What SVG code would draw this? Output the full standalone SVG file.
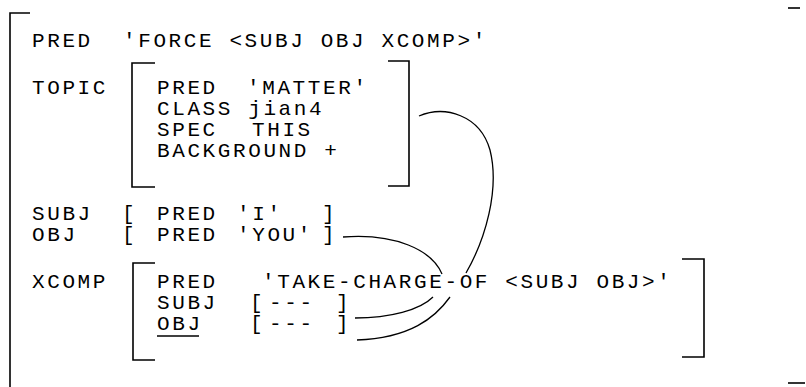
<svg xmlns="http://www.w3.org/2000/svg" width="806" height="387" viewBox="0 0 806 387">
<style>
text{font-family:"Liberation Mono","DejaVu Sans Mono",monospace;font-size:21px;letter-spacing:2.6px;fill:#000}
.br{fill:none;stroke:#000;stroke-width:1.6}
.cn{fill:none;stroke:#000;stroke-width:1.3}
</style>
<rect width="806" height="387" fill="#fff"/>
<g id="outer">
<path class="br" d="M30 13H10V387"/>
<path class="br" d="M788 8H800"/>
<path class="br" d="M788 383H805"/>
<text x="32" y="47">PRED</text>
<text x="123" y="47">'FORCE &lt;SUBJ OBJ XCOMP&gt;'</text>
</g>
<g id="topic">
<text x="32" y="94">TOPIC</text>
<path class="br" d="M155 63H132V187H155"/>
<path class="br" d="M388 61H409V186H388"/>
<text x="157" y="94">PRED</text>
<text x="247" y="94">'MATTER'</text>
<text x="157" y="115">CLASS jian4</text>
<text x="157" y="136">SPEC</text>
<text x="252" y="136">THIS</text>
<text x="157" y="157">BACKGROUND +</text>
</g>
<g id="subj">
<text x="32" y="220">SUBJ</text>
<text x="122" y="220">[</text>
<text x="157" y="220">PRED</text>
<text x="237" y="220">'I'</text>
<text x="322" y="220">]</text>
</g>
<g id="obj">
<text x="32" y="241">OBJ</text>
<text x="122" y="241">[</text>
<text x="157" y="241">PRED</text>
<text x="237" y="241">'YOU'</text>
<text x="322" y="241">]</text>
</g>
<g id="xcomp">
<text x="32" y="288">XCOMP</text>
<path class="br" d="M155 263H133V360H155"/>
<path class="br" d="M682 259H704V357H682"/>
<text x="157" y="288">PRED</text>
<text x="262" y="288">'TAKE-CHARGE-OF &lt;SUBJ OBJ&gt;'</text>
<text x="157" y="309">SUBJ</text>
<text x="250" y="309">[</text>
<text x="269" y="309">---</text>
<text x="336" y="309">]</text>
<text x="157" y="330">OBJ</text>
<path class="br" d="M157 336H199" stroke-width="1.3"/>
<text x="250" y="330">[</text>
<text x="269" y="330">---</text>
<text x="336" y="330">]</text>
</g>
<g id="connectors">
<path class="cn" d="M343 237C395 233 432 250 442 274"/>
<path class="cn" d="M355 318C390 318 420 310 433 297"/>
<path class="cn" d="M419 116C445 105 480 115 490 150C500 190 485 240 466 273"/>
<path class="cn" d="M450 297C435 318 410 338 357 340"/>
</g>
</svg>
